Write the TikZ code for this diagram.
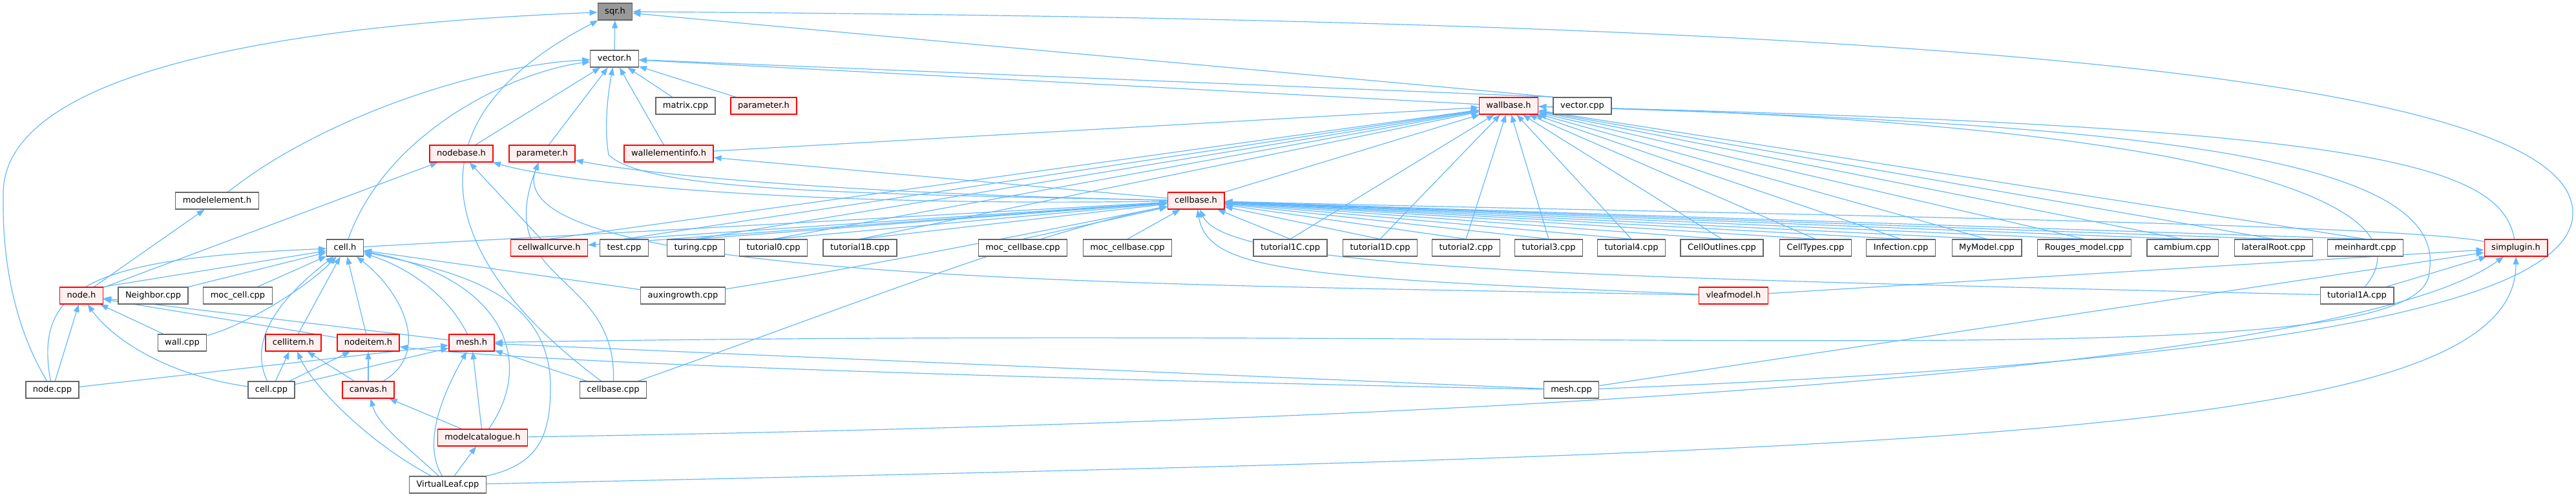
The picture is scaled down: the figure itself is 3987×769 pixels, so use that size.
\documentclass[tikz,border=0pt]{standalone}
\usepackage{fontspec}
\setmainfont{DejaVu Sans}
\usepackage{xcolor}
\usepackage{tikz}
\usetikzlibrary{arrows.meta, backgrounds}
\definecolor{dxEdge}{RGB}{ 99,184,255}
\definecolor{dxLine}{RGB}{102,102,102}
\definecolor{dxRoot}{RGB}{153,153,153}
\definecolor{dxRed}{RGB}{255,  0,  0}
\definecolor{dxPink}{RGB}{255,240,240}

\begin{document}
\begin{tikzpicture}[x=1pt, y=-1pt,
    file/.style={draw=dxLine, fill=white, line width=1.3pt, minimum height=26pt,
                 inner xsep=11pt, inner ysep=0pt, text height=10pt, text depth=3pt,
                 font=\fontsize{13}{15}\selectfont},
    trunc/.style={file, draw=dxRed, fill=dxPink},
    root/.style={file, fill=dxRoot},
    edge/.style={draw=dxEdge, line width=1.2pt, -{Triangle[length=12pt,width=9pt]}}
  ]
  \useasboundingbox (0,0) rectangle (3987,769);
  % top of the graph
  \node[root]  (sqr)       at (952,18)   {sqr.h};
  \node[file]  (vectorh)   at (951,91)   {vector.h};
  \node[file]  (matrixcpp) at (1061,164) {matrix.cpp};
  \node[trunc] (paramB)    at (1182,164) {parameter.h};
  \node[trunc] (wallbase)  at (2335,164) {wallbase.h};
  \node[file]  (vectorcpp) at (2449,164) {vector.cpp};
  \node[trunc] (nodebase)  at (714,238)  {nodebase.h};
  \node[trunc] (paramA)    at (839,238)  {parameter.h};
  \node[trunc] (wallelem)  at (1035,238) {wallelementinfo.h};
  \node[file]  (modelelem) at (336,311)  {modelelement.h};
  \node[trunc] (cellbaseh) at (1851,311) {cellbase.h};
  % row of sources
  \node[file]  (cellh)         at (534,384)  {cell.h};
  \node[trunc] (cellwallcurve) at (850,384)  {cellwallcurve.h};
  \node[file]  (testcpp)       at (966,384)  {test.cpp};
  \node[file]  (turing)        at (1077,384) {turing.cpp};
  \node[file]  (tutzero)       at (1197,384) {tutorial0.cpp};
  \node[file]  (tutoneB)       at (1331,384) {tutorial1B.cpp};
  \node[file]  (moccbA)        at (1583,384) {moc\_cellbase.cpp};
  \node[file]  (moccbB)        at (1745,384) {moc\_cellbase.cpp};
  \node[file]  (tutoneC)       at (1997,384) {tutorial1C.cpp};
  \node[file]  (tutoneD)       at (2136,384) {tutorial1D.cpp};
  \node[file]  (tuttwo)        at (2269,384) {tutorial2.cpp};
  \node[file]  (tutthree)      at (2397,384) {tutorial3.cpp};
  \node[file]  (tutfour)       at (2525,384) {tutorial4.cpp};
  \node[file]  (celloutlines)  at (2665,384) {CellOutlines.cpp};
  \node[file]  (celltypes)     at (2810,384) {CellTypes.cpp};
  \node[file]  (infection)     at (2942,384) {Infection.cpp};
  \node[file]  (mymodel)       at (3075,384) {MyModel.cpp};
  \node[file]  (rouges)        at (3226,384) {Rouges\_model.cpp};
  \node[file]  (cambium)       at (3378,384) {cambium.cpp};
  \node[file]  (lateralroot)   at (3519,384) {lateralRoot.cpp};
  \node[file]  (meinhardt)     at (3661,384) {meinhardt.cpp};
  \node[trunc] (simplugin)     at (3894,384) {simplugin.h};
  % lower part
  \node[trunc] (nodeh)       at (126,458)  {node.h};
  \node[file]  (neighbor)    at (237,458)  {Neighbor.cpp};
  \node[file]  (moccell)     at (368,458)  {moc\_cell.cpp};
  \node[file]  (auxin)       at (1057,458) {auxingrowth.cpp};
  \node[trunc] (vleafmodel)  at (2683,458) {vleafmodel.h};
  \node[file]  (tutoneA)     at (3648,458) {tutorial1A.cpp};
  \node[file]  (wallcpp)     at (282,531)  {wall.cpp};
  \node[trunc] (cellitem)    at (454,531)  {cellitem.h};
  \node[trunc] (nodeitem)    at (570,531)  {nodeitem.h};
  \node[trunc] (meshh)       at (730,531)  {mesh.h};
  \node[file]  (nodecpp)     at (81,604)   {node.cpp};
  \node[file]  (cellcpp)     at (420,604)  {cell.cpp};
  \node[trunc] (canvas)      at (570,604)  {canvas.h};
  \node[file]  (cellbasecpp) at (949,604)  {cellbase.cpp};
  \node[file]  (meshcpp)     at (2432,604) {mesh.cpp};
  \node[trunc] (modelcat)    at (747,678)  {modelcatalogue.h};
  \node[file]  (virtualleaf) at (693,751)  {VirtualLeaf.cpp};

  \begin{scope}[on background layer]
    % sqr.h
    \draw[edge] (vectorh) -- (sqr);
    \draw[edge] (vectorcpp.north west) -- (sqr);
    \draw[edge] (nodecpp) .. controls (0,470) and (5,330) .. (5,300)
                .. controls (5,120) and (400,40) .. (sqr);
    \draw[edge] (cellbasecpp) .. controls (700,420) and (600,200) .. (sqr);
    \draw[edge] (meshcpp) .. controls (3300,570) and (3982,500) .. (3982,330)
                .. controls (3982,100) and (2800,30) .. (sqr);
    % vector.h
    \foreach \src in {nodebase,paramA,wallelem,matrixcpp,paramB,wallbase}
      \draw[edge] (\src) -- (vectorh);
    \draw[edge] (vectorcpp.north west) -- (vectorh);
    \draw[edge] (modelelem) .. controls (500,180) and (750,100) .. (vectorh);
    \draw[edge] (cellh) .. controls (600,200) and (800,110) .. (vectorh);
    \draw[edge] (cellbaseh) .. controls (1300,300) and (1000,295) .. (942,240)
                .. controls (935,200) and (940,150) .. (vectorh);
    % wallbase.h
    \foreach \src in {cellwallcurve,testcpp,turing,tutzero,tutoneB,tutoneC,tutoneD,
                      tuttwo,tutthree,tutfour,celloutlines,celltypes,infection,
                      mymodel,rouges,cambium,lateralroot,meinhardt}
      \draw[edge] (\src.north) -- (wallbase);
    \draw[edge] (wallelem) -- (wallbase);
    \draw[edge] (cellbaseh) -- (wallbase);
    \draw[edge] (simplugin) .. controls (3870,250) and (3650,195) .. (wallbase);
    \draw[edge] (tutoneA) .. controls (3760,330) and (3500,190) .. (wallbase);
    % cellbase.h
    \foreach \src in {testcpp,turing,tutzero,tutoneB,moccbA,moccbB,tutoneC,tutoneD,
                      tuttwo,tutthree,tutfour,celloutlines,celltypes,infection,
                      mymodel,rouges,cambium,lateralroot,meinhardt}
      \draw[edge] (\src.north) -- (cellbaseh);
    \draw[edge] (cellh) -- (cellbaseh);
    \draw[edge] (simplugin) .. controls (3700,345) and (2600,330) .. (cellbaseh);
    \draw[edge] (auxin) .. controls (1300,420) and (1500,380) .. (cellbaseh);
    \draw[edge] (cellbasecpp) .. controls (1300,480) and (1600,360) .. (cellbaseh);
    \draw[edge] (vleafmodel) .. controls (2000,430) and (1870,420) .. (cellbaseh);
    \draw[edge] (tutoneA) .. controls (2500,430) and (1900,420) .. (cellbaseh);
    \draw[edge] (cellbaseh) -- (cellwallcurve);
    % headers in the middle rows
    \draw[edge] (cellbaseh) -- (wallelem);
    \draw[edge] (cellbaseh) .. controls (1300,300) and (1000,270) .. (paramA);
    \draw[edge] (cellbaseh) .. controls (1300,320) and (900,290) .. (nodebase);
    \draw[edge] (cellwallcurve) -- (nodebase);
    \draw[edge] (nodeh) -- (nodebase);
    \draw[edge] (nodeh) -- (modelelem);
    \draw[edge] (cellbasecpp) .. controls (955,420) and (760,440) .. (paramA);
    \draw[edge] (vleafmodel) .. controls (1800,440) and (760,440) .. (paramA);
    % cell.h
    \foreach \src in {neighbor,moccell,cellitem,nodeitem,auxin}
      \draw[edge] (\src) -- (cellh);
    \draw[edge] (nodeh.north east) -- (cellh);
    \draw[edge] (nodecpp) .. controls (50,440) and (150,400) .. (cellh);
    \draw[edge] (wallcpp) .. controls (390,500) and (480,440) .. (cellh);
    \draw[edge] (cellcpp) .. controls (390,540) and (410,480) .. (cellh);
    \draw[edge] (canvas) .. controls (670,545) and (620,450) .. (cellh);
    \draw[edge] (meshh) .. controls (690,450) and (620,410) .. (cellh);
    \draw[edge] (modelcat) .. controls (830,560) and (780,430) .. (cellh);
    \draw[edge] (virtualleaf) .. controls (830,720) and (852,680) .. (852,600)
                .. controls (852,450) and (700,420) .. (cellh);
    % node.h, mesh.h and the items
    \foreach \src in {nodecpp,wallcpp,nodeitem,meshh}
      \draw[edge] (\src) -- (nodeh);
    \draw[edge] (cellcpp) .. controls (250,580) and (170,520) .. (nodeh);
    \foreach \src in {nodecpp,cellcpp,modelcat,cellbasecpp,meshcpp}
      \draw[edge] (\src) -- (meshh);
    \draw[edge] (virtualleaf) .. controls (655,690) and (680,620) .. (meshh);
    \draw[edge] (wallbase) .. controls (3300,190) and (3790,240) .. (3760,420)
                .. controls (3760,590) and (2600,500) .. (meshh);
    \draw[edge] (cellcpp) -- (nodeitem);
    \draw[edge] (canvas) -- (nodeitem);
    \draw[edge] (meshcpp) .. controls (1500,585) and (800,560) .. (nodeitem);
    \draw[edge] (cellcpp) -- (cellitem);
    \draw[edge] (canvas) -- (cellitem);
    \draw[edge] (virtualleaf) .. controls (560,680) and (480,590) .. (cellitem);
    \draw[edge] (modelcat) -- (canvas);
    \draw[edge] (virtualleaf) .. controls (640,700) and (585,660) .. (canvas);
    \draw[edge] (virtualleaf) -- (modelcat);
    % simplugin.h
    \draw[edge] (vleafmodel) -- (simplugin);
    \draw[edge] (tutoneA) -- (simplugin);
    \draw[edge] (meshcpp) -- (simplugin);
    \draw[edge] (modelcat) .. controls (2500,650) and (3650,560) .. (simplugin);
    \draw[edge] (virtualleaf) .. controls (3000,700) and (3894,680) .. (simplugin);
  \end{scope}
\end{tikzpicture}
\end{document}
